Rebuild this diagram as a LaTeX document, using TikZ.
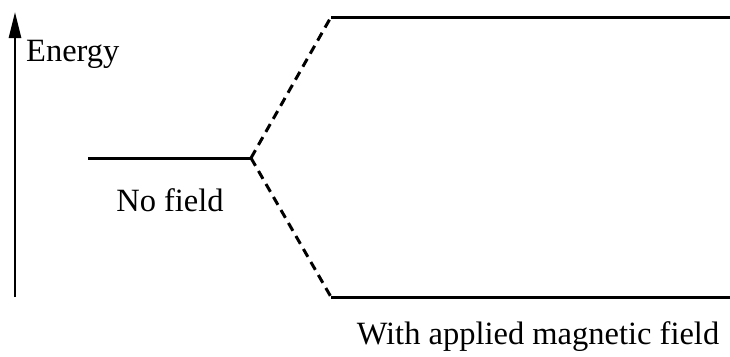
\documentclass[tikz,border=0pt]{standalone}
\usepackage{fontspec}
\setmainfont{Liberation Serif}
\usetikzlibrary{arrows.meta}
\begin{document}
\begin{tikzpicture}[x=1pt,y=-1pt,
  lvl/.style={line width=3pt},
  dsh/.style={line width=3pt,dash pattern=on 9pt off 6pt},
  lbl/.style={font=\fontsize{32.5}{38}\selectfont,inner sep=0pt}]
\useasboundingbox (0,0) rectangle (730,356);
\coordinate (ab) at (15,297);
\coordinate (at) at (15,12);
\draw[line width=2.8pt,-{Triangle[length=26pt,width=12pt]}] (ab) -- (at);
\node[lbl,anchor=base west] (en) at (26,61) {Energy};
\coordinate (n1) at (88,158);
\coordinate (j) at (251,158);
\coordinate (t1) at (331,17);
\coordinate (t2) at (730,17);
\coordinate (b1) at (331,297);
\coordinate (b2) at (730,297);
\draw[lvl] (n1) -- (j);
\draw[dsh] (j) -- (t1);
\draw[dsh] (j) -- (b1);
\draw[lvl] (t1) -- (t2);
\draw[lvl] (b1) -- (b2);
\node[lbl] (nf) at (170,200) {No field};
\node[lbl] (wf) at (538,337) {With applied magnetic field};
\end{tikzpicture}
\end{document}
